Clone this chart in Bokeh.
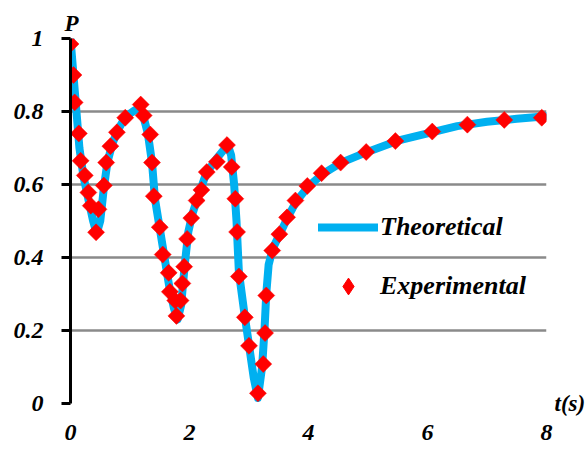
import numpy as np
from bokeh.plotting import figure
from bokeh.models import Range1d, FixedTicker, Legend, LegendItem, Title, LinearAxis
from bokeh.embed import file_html
from bokeh.resources import INLINE

# Theoretical curve
theo_t = [0.0, 0.05, 0.10, 0.15, 0.22, 0.30, 0.38, 0.44, 0.50, 0.56, 0.62, 0.70, 0.80, 0.92,
          1.05, 1.15, 1.22, 1.30, 1.37, 1.42, 1.50, 1.58, 1.66, 1.74, 1.80, 1.86, 1.92, 1.98,
          2.05, 2.15, 2.28, 2.45, 2.60, 2.66, 2.70, 2.75, 2.79, 2.83, 2.92, 3.00, 3.08, 3.15,
          3.22, 3.26, 3.29, 3.33, 3.40, 3.52, 3.65, 3.80, 4.00, 4.25, 4.55, 5.00, 5.50, 6.00,
          6.50, 7.00, 7.50, 8.00]
theo_p = [1.00, 0.90, 0.80, 0.70, 0.62, 0.56, 0.50, 0.465, 0.50, 0.59, 0.66, 0.71, 0.75, 0.785,
          0.80, 0.81, 0.79, 0.74, 0.66, 0.56, 0.48, 0.40, 0.32, 0.26, 0.23, 0.27, 0.38, 0.47,
          0.52, 0.57, 0.63, 0.67, 0.70, 0.70, 0.68, 0.60, 0.50, 0.36, 0.25, 0.16, 0.07, 0.015,
          0.10, 0.20, 0.30, 0.38, 0.425, 0.465, 0.51, 0.555, 0.595, 0.63, 0.66, 0.69, 0.72, 0.74,
          0.76, 0.772, 0.78, 0.787]

# Experimental points
exp_t = [0.00, 0.05, 0.07, 0.14, 0.17, 0.24, 0.30, 0.34, 0.47, 0.43, 0.56, 0.60, 0.67, 0.78,
         0.92, 1.18, 1.23, 1.34, 1.37, 1.40, 1.50, 1.55, 1.65, 1.67, 1.76, 1.78, 1.85, 1.88,
         1.91, 1.96, 2.03, 2.12, 2.20, 2.29, 2.46, 2.63, 2.71, 2.77, 2.80, 2.83, 2.93, 3.00,
         3.15, 3.24, 3.27, 3.29, 3.39, 3.51, 3.64, 3.78, 3.98, 4.22, 4.54, 4.97, 5.46, 6.08,
         6.67, 7.29, 7.92]
exp_p = [0.985, 0.90, 0.825, 0.74, 0.665, 0.625, 0.578, 0.542, 0.532, 0.469, 0.597, 0.66, 0.705, 0.743,
         0.783, 0.819, 0.789, 0.737, 0.660, 0.568, 0.483, 0.408, 0.358, 0.306, 0.282, 0.240, 0.282, 0.329,
         0.375, 0.451, 0.508, 0.556, 0.585, 0.634, 0.662, 0.708, 0.648, 0.561, 0.470, 0.348, 0.236, 0.158,
         0.028, 0.108, 0.193, 0.296, 0.419, 0.464, 0.510, 0.556, 0.596, 0.631, 0.660, 0.689, 0.719, 0.745,
         0.764, 0.777, 0.783]

x_ticks = [0, 2, 4, 6, 8]
y_ticks = [0, 0.2, 0.4, 0.6, 0.8, 1.0]
y_labels = ["0", "0.2", "0.4", "0.6", "0.8", "1"]

FONT = "Liberation Serif"

p = figure(width=588, height=451, output_backend="svg", toolbar_location=None,
           x_range=Range1d(0, 8), y_range=Range1d(0, 1),
           min_border_left=70, min_border_right=42, min_border_top=38, min_border_bottom=48)
p.outline_line_color = None
p.background_fill_color = "white"

# grid
p.xgrid.visible = False
p.ygrid.ticker = FixedTicker(ticks=y_ticks)
p.ygrid.grid_line_color = "#8a8a8a"
p.ygrid.grid_line_width = 2.5

# y axis
p.yaxis.ticker = FixedTicker(ticks=y_ticks)
p.yaxis.major_label_overrides = {t: l for t, l in zip(y_ticks, y_labels)}
p.yaxis.axis_line_color = "black"
p.yaxis.axis_line_width = 3
p.yaxis.major_tick_line_color = "black"
p.yaxis.major_tick_line_width = 3
p.yaxis.major_tick_out = 9
p.yaxis.major_tick_in = 0
p.yaxis.minor_tick_line_color = None
p.yaxis.major_label_standoff = 18
p.yaxis.major_label_text_font = FONT
p.yaxis.major_label_text_font_style = "bold italic"
p.yaxis.major_label_text_font_size = "24px"
p.yaxis.major_label_text_color = "black"

# x axis
p.xaxis.ticker = FixedTicker(ticks=x_ticks)
p.xaxis.axis_line_color = None
p.xaxis.major_tick_line_color = None
p.xaxis.minor_tick_line_color = None
p.xaxis.major_tick_out = 0
p.xaxis.major_label_standoff = 21
p.xaxis.major_label_text_font = FONT
p.xaxis.major_label_text_font_style = "bold italic"
p.xaxis.major_label_text_font_size = "24px"
p.xaxis.major_label_text_color = "black"

# "t(s)" axis name at the right end of the time axis
t_axis = LinearAxis(ticker=FixedTicker(ticks=[0]), major_label_overrides={0: "t(s)"},
                    axis_line_color=None, major_tick_line_color=None, minor_tick_line_color=None,
                    major_tick_out=0, major_tick_in=0, major_label_standoff=8,
                    major_label_text_font=FONT, major_label_text_font_style="bold italic",
                    major_label_text_font_size="23px", major_label_text_color="black")
p.add_layout(t_axis, "right")

# "P" axis name above the y axis
p.add_layout(Title(text="P", align="left", offset=-6, standoff=6, text_font=FONT,
                   text_font_style="bold italic", text_font_size="23px", text_color="black"), "above")

line_r = p.line(theo_t, theo_p, line_color="#00B0F0", line_width=8, line_join="round", line_cap="round")
pts_r = p.scatter(exp_t, exp_p, marker="square", angle=np.pi / 4, size=12,
                  fill_color="#FF0000", line_color="#FF0000", line_width=0.5)
# legend swatch for the experimental points (diamond shape); no visible mark of its own
leg_pts = p.scatter(x=[np.nan], y=[np.nan], marker="diamond", size=17,
                    fill_color="#FF0000", line_color="#FF0000")

legend = Legend(items=[LegendItem(label="Theoretical", renderers=[line_r]),
                       LegendItem(label="Experimental", renderers=[leg_pts])],
                location=(248, 96), orientation="vertical",
                glyph_width=60, glyph_height=42, label_height=20, spacing=17,
                padding=0, margin=0, label_standoff=2,
                background_fill_alpha=0, border_line_alpha=0,
                label_text_font=FONT, label_text_font_style="bold italic",
                label_text_font_size="26px", label_text_color="black")
p.add_layout(legend, "center")

open("out.html", "w").write(file_html(p, INLINE))
